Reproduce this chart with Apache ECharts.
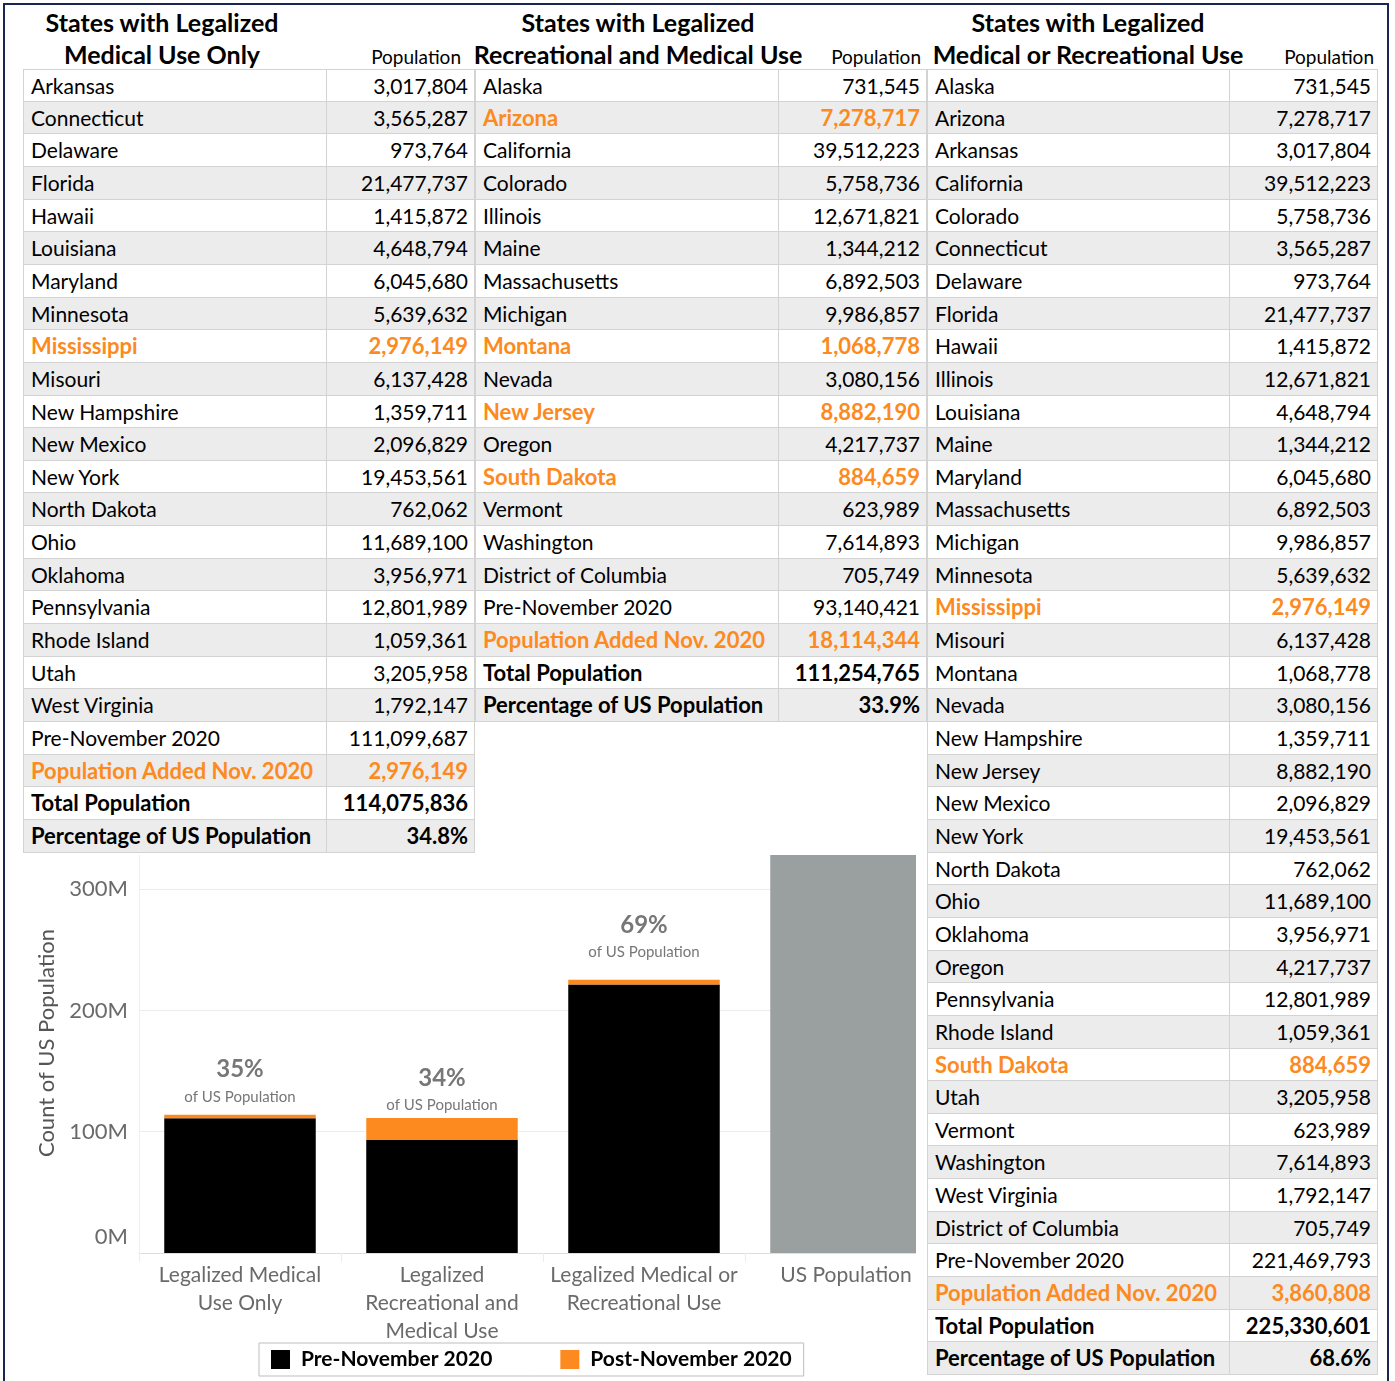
<!DOCTYPE html>
<html><head><meta charset="utf-8">
<script src="https://cdn.jsdelivr.net/npm/echarts@6/dist/echarts.min.js"></script>
<style>
body{margin:0;background:#fff;font-family:Lato,'Open Sans',sans-serif;}
#page{position:relative;width:1395px;height:1381px;overflow:hidden;background:#fff;}
#frame{position:absolute;left:3px;top:3px;width:1382px;height:1400px;border:2px solid #1c2452;pointer-events:none;}
.c{position:absolute;box-sizing:border-box;white-space:nowrap;font-size:21px;color:#000;border-right:1px solid #d3d3d3;border-bottom:1px solid #d3d3d3;padding:0 6px 0 7px;overflow:hidden;}
.v{text-align:right;}
.hl{color:#fd8a20;font-weight:bold;font-size:22px;}
.b{font-weight:bold;font-size:22px;}
.h{position:absolute;font-weight:bold;font-size:25px;white-space:nowrap;transform:translateX(-50%);text-align:center;line-height:32px;}
.p{position:absolute;font-size:19px;white-space:nowrap;transform:translateX(-100%);line-height:24px;}
#chartWrap{position:absolute;left:0;top:852px;width:916px;height:529px;overflow:hidden;}
#chart{width:980px;height:529px;}
</style>
</head><body>
<div id="page">
<div id="chartWrap"><div id="chart"></div></div>
<div id="tables"></div>
<div id="frame"></div>
</div>
<script>
// ---------- data ----------
const tableTitles = [
  ['States with Legalized', 'Medical Use Only'],
  ['States with Legalized', 'Recreational and Medical Use'],
  ['States with Legalized', 'Medical or Recreational Use']
];
const popHeader = 'Population';

const medStates = ['Arkansas','Connecticut','Delaware','Florida','Hawaii','Louisiana','Maryland','Minnesota','Mississippi','Misouri','New Hampshire','New Mexico','New York','North Dakota','Ohio','Oklahoma','Pennsylvania','Rhode Island','Utah','West Virginia'];
const medPops = ['3,017,804','3,565,287','973,764','21,477,737','1,415,872','4,648,794','6,045,680','5,639,632','2,976,149','6,137,428','1,359,711','2,096,829','19,453,561','762,062','11,689,100','3,956,971','12,801,989','1,059,361','3,205,958','1,792,147'];
const medNew = ['Mississippi'];
const medSummary = ['111,099,687','2,976,149','114,075,836','34.8%'];

const recStates = ['Alaska','Arizona','California','Colorado','Illinois','Maine','Massachusetts','Michigan','Montana','Nevada','New Jersey','Oregon','South Dakota','Vermont','Washington','District of Columbia'];
const recPops = ['731,545','7,278,717','39,512,223','5,758,736','12,671,821','1,344,212','6,892,503','9,986,857','1,068,778','3,080,156','8,882,190','4,217,737','884,659','623,989','7,614,893','705,749'];
const recNew = ['Arizona','Montana','New Jersey','South Dakota'];
const recSummary = ['93,140,421','18,114,344','111,254,765','33.9%'];

const anyStates = ['Alaska','Arizona','Arkansas','California','Colorado','Connecticut','Delaware','Florida','Hawaii','Illinois','Louisiana','Maine','Maryland','Massachusetts','Michigan','Minnesota','Mississippi','Misouri','Montana','Nevada','New Hampshire','New Jersey','New Mexico','New York','North Dakota','Ohio','Oklahoma','Oregon','Pennsylvania','Rhode Island','South Dakota','Utah','Vermont','Washington','West Virginia','District of Columbia'];
const anyPops = ['731,545','7,278,717','3,017,804','39,512,223','5,758,736','3,565,287','973,764','21,477,737','1,415,872','12,671,821','4,648,794','1,344,212','6,045,680','6,892,503','9,986,857','5,639,632','2,976,149','6,137,428','1,068,778','3,080,156','1,359,711','8,882,190','2,096,829','19,453,561','762,062','11,689,100','3,956,971','4,217,737','12,801,989','1,059,361','884,659','3,205,958','623,989','7,614,893','1,792,147','705,749'];
const anyNew = ['Mississippi','South Dakota'];
const anySummary = ['221,469,793','3,860,808','225,330,601','68.6%'];

const summaryLabels = ['Pre-November 2020','Population Added Nov. 2020','Total Population','Percentage of US Population'];

const categories = ['Legalized Medical\nUse Only','Legalized\nRecreational and\nMedical Use','Legalized Medical or\nRecreational Use','US Population'];
const preNov = [111099687, 93140421, 221469793];
const postNov = [2976149, 18114344, 3860808];
const usPopulation = 328239523;
const legendNames = ['Pre-November 2020','Post-November 2020'];

// ---------- tables ----------
const tablesEl = document.getElementById('tables');
const ROW0 = 69, RH = 32.65;
const layouts = [
  {x0:23, x1:327, x2:475, hc:162, pr:461},
  {x0:475, x1:779, x2:927, hc:638, pr:921},
  {x0:927, x1:1230, x2:1378, hc:1088, pr:1374}
];
function addDiv(cls, style, text){
  const d=document.createElement('div'); d.className=cls; Object.assign(d.style, style); d.textContent=text; tablesEl.appendChild(d); return d;
}
function buildTable(t, names, pops, hl, summary){
  const L = layouts[t];
  addDiv('h',{left:L.hc+'px',top:'6px'},tableTitles[t][0]);
  addDiv('h',{left:L.hc+'px',top:'38px'},tableTitles[t][1]);
  addDiv('p',{left:L.pr+'px',top:'45px'},popHeader);
  const rows=[];
  names.forEach((n,i)=>rows.push({n, v:pops[i], cls: hl.includes(n)?' hl':''}));
  summaryLabels.forEach((n,i)=>rows.push({n, v:summary[i], cls: i===1?' hl':(i>=2?' b':'')}));
  rows.forEach((r,i)=>{
    const top=Math.round(ROW0+i*RH), bot=Math.round(ROW0+(i+1)*RH), h=bot-top;
    const bg = i%2===1 ? '#ececec' : '#ffffff';
    const base={top:top+'px',height:h+'px',lineHeight:(h-1)+'px',background:bg};
    const a=addDiv('c'+r.cls, Object.assign({left:L.x0+'px',width:(L.x1-L.x0)+'px'},base), r.n);
    if(i===0) a.style.borderTop='1px solid #d3d3d3';
    a.style.borderLeft='1px solid #d3d3d3';
    const b=addDiv('c v'+r.cls, Object.assign({left:L.x1+'px',width:(L.x2-L.x1)+'px'},base), r.v);
    if(i===0) b.style.borderTop='1px solid #d3d3d3';
  });
}
buildTable(0, medStates, medPops, medNew, medSummary);
buildTable(1, recStates, recPops, recNew, recSummary);
buildTable(2, anyStates, anyPops, anyNew, anySummary);

// ---------- chart ----------
const chart = echarts.init(document.getElementById('chart'), null, {renderer:'canvas'});
const FONT = 'Lato';
const pctLabels = preNov.map((v,i)=>Math.round((v+postNov[i])/usPopulation*100)+'%');
const labelGaps = [7, 2, 17];
chart.setOption({
  animation:false,
  textStyle:{fontFamily:FONT},
  grid:{left:139, top:3, width:808, height:398},
  legend:{
    data:legendNames, left:259, top:491, icon:'rect', itemWidth:19, itemHeight:19, itemGap:68,
    padding:[6,12,6,12], borderColor:'#bdbdbd', borderWidth:1,
    textStyle:{fontFamily:FONT, fontSize:21, fontWeight:'bold', color:'#000', padding:[0,0,0,6]}
  },
  xAxis:{
    type:'category', data:categories,
    axisLine:{lineStyle:{color:'#dedede'}},
    axisTick:{show:true, length:9, lineStyle:{color:'#ececec'}},
    axisLabel:{interval:0, fontFamily:FONT, fontSize:21, color:'#6a6a6a', lineHeight:28, margin:8}
  },
  yAxis:{
    type:'value', min:0, max:usPopulation, interval:100000000,
    name:'Count of US Population', nameLocation:'middle', nameGap:80, nameRotate:90,
    nameTextStyle:{fontFamily:FONT, fontSize:22, color:'#555', padding:[0,0,0,22]},
    axisLine:{show:true, lineStyle:{color:'#eeeeee'}},
    axisTick:{show:false},
    splitLine:{show:true, showMaxLine:false, lineStyle:{color:'#ececec'}},
    axisLabel:{showMaxLabel:false, fontFamily:FONT, fontSize:22, color:'#6a6a6a', margin:11,
      formatter:v=> v===0 ? '{z|0M}' : (Math.round(v/1e6)+'M'),
      rich:{z:{fontFamily:FONT, fontSize:22, color:'#6a6a6a', padding:[0,0,32,0]}}}
  },
  series:[
    {name:legendNames[0], type:'bar', stack:'s', barCategoryGap:'25%', itemStyle:{color:'#000'},
     data:preNov.concat(['-'])},
    {name:legendNames[1], type:'bar', stack:'s', itemStyle:{color:'#fd8a1f'},
     data:postNov.map((v,i)=>({value:v, label:{distance:labelGaps[i]}})).concat(['-']),
     label:{show:true, position:'top',
       formatter:p=>'{p|'+pctLabels[p.dataIndex]+'}\n{s|of US Population}',
       rich:{p:{fontFamily:FONT, fontSize:24, fontWeight:'bold', color:'#777', lineHeight:32},
             s:{fontFamily:FONT, fontSize:15, color:'#777', lineHeight:22}}}},
    {name:'US Population', type:'bar', stack:'s', itemStyle:{color:'#9a9f9f'},
     data:['-','-','-',usPopulation]}
  ]
});
</script>
</body></html>
